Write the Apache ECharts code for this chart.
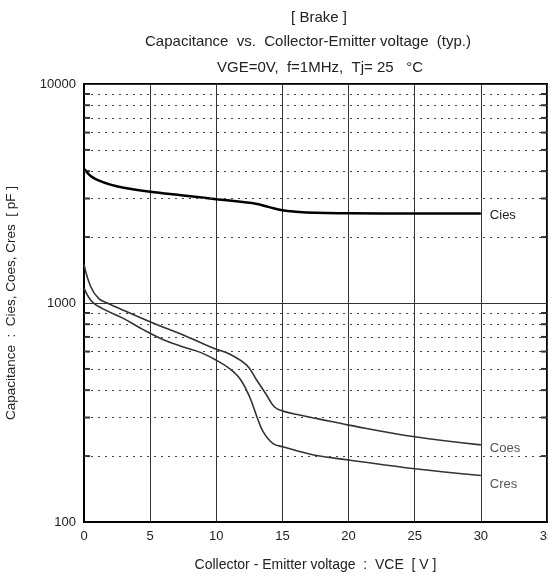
<!DOCTYPE html>
<html><head><meta charset="utf-8">
<script src="https://cdn.jsdelivr.net/npm/echarts@6/dist/echarts.min.js"></script>
<style>html,body{margin:0;padding:0;background:#fff}#c{width:548px;height:574px}</style>
</head><body><div id="c"></div>
<script>
var xTicks = [0,5,10,15,20,25,30,35];
var yTicks = [100,1000,10000];
var minorY = [200,300,400,500,600,700,800,900,2000,3000,4000,5000,6000,7000,8000,9000];
var cies = [[0,4100],[0.5,3800],[1,3650],[2,3470],[3,3360],[5,3220],[7.5,3100],[10,2980],[12,2890],[13,2840],[14,2740],[15,2650],[16,2610],[17.5,2580],[20,2570],[25,2560],[30,2560]];
var coes = [[0,1500],[0.5,1190],[1.1,1050],[1.75,1000],[3,925],[4.4,850],[6,775],[7.5,715],[8.8,660],[10,615],[11,585],[12.3,520],[13.05,445],[13.8,380],[14.4,335],[15.1,320],[16.3,308],[17.8,295],[20,277],[25,245],[30,225]];
var cres = [[0,1170],[0.6,1015],[1.36,945],[2.9,855],[4.4,760],[6,680],[7.5,630],[8.8,595],[10,548],[11,502],[11.8,450],[12.5,375],[13.05,305],[13.55,258],[14.3,228],[15.1,220],[16.3,210],[17.8,200],[20,192],[25,175],[30,163]];
var titleLines = ['[ Brake ]','Capacitance  vs.  Collector-Emitter voltage  (typ.)','VGE=0V,  f=1MHz,  Tj= 25   °C'];

var FONT = 'Liberation Sans, Arial, sans-serif';
var chart = echarts.init(document.getElementById('c'));
var tickL = minorY.map(function(v){return [xTicks[0], v];});
var tickR = minorY.map(function(v){return [xTicks[xTicks.length-1], v];});
chart.setOption({
  animation:false,
  backgroundColor:'#fff',
  graphic:[
    {type:'text', x:319, y:18, style:{text:titleLines[0], font:'15px '+FONT, fill:'#222', textAlign:'center', textVerticalAlign:'middle'}},
    {type:'text', x:308, y:42, style:{text:titleLines[1], font:'15px '+FONT, fill:'#222', textAlign:'center', textVerticalAlign:'middle'}},
    {type:'text', x:320, y:68, style:{text:titleLines[2], font:'15px '+FONT, fill:'#222', textAlign:'center', textVerticalAlign:'middle'}}
  ],
  grid:{left:84, right:1, top:84, bottom:52, outerBoundsMode:'none', containLabel:false, show:true, borderColor:'#000', borderWidth:2, backgroundColor:'transparent'},
  xAxis:{type:'value', min:0, max:35, interval:5,
    name:'Collector - Emitter voltage  :  VCE  [ V ]', nameLocation:'middle', nameGap:36,
    nameTextStyle:{fontFamily:FONT, fontSize:14, color:'#222'},
    axisLine:{show:true, lineStyle:{color:'#000', width:2}},
    axisTick:{show:false},
    axisLabel:{fontFamily:FONT, fontSize:13, color:'#222', margin:8},
    splitLine:{show:true, lineStyle:{color:'#333', width:1}}
  },
  yAxis:{type:'log', logBase:10, min:100, max:10000,
    name:'Capacitance  :  Cies, Coes, Cres  [ pF ]', nameLocation:'middle', nameGap:66,
    nameTextStyle:{fontFamily:FONT, fontSize:13.5, color:'#222'},
    axisLine:{show:true, lineStyle:{color:'#000', width:2}},
    axisTick:{show:false},
    axisLabel:{fontFamily:FONT, fontSize:13, color:'#222', margin:8,
      formatter:function(v){return yTicks.indexOf(Math.round(v))>=0 ? String(Math.round(v)) : '';}},
    splitLine:{show:true, lineStyle:{color:'#333', width:1}}
  },
  series:[
    {type:'line', name:'Cies', data:cies, symbol:'none', smooth:0.4,
      lineStyle:{color:'#000', width:2.5},
      endLabel:{show:true, formatter:'{a}', distance:9, fontFamily:FONT, fontSize:13, color:'#222', offset:[0,2]},
      markLine:{silent:true, symbol:'none', label:{show:false}, animation:false,
        lineStyle:{color:'#444', width:1, type:[2,5]},
        data:minorY.map(function(v){return {yAxis:v};})}
    },
    {type:'line', name:'Coes', data:coes, symbol:'none', smooth:0.4,
      lineStyle:{color:'#333', width:1.6},
      endLabel:{show:true, formatter:'{a}', distance:9, fontFamily:FONT, fontSize:13, color:'#555', offset:[0,4]}
    },
    {type:'scatter', data:tickL, symbol:'rect', symbolSize:[6,2], symbolOffset:[3,0], silent:true,
      itemStyle:{color:'#000'}},
    {type:'line', name:'Cres', data:cres, symbol:'none', smooth:0.4,
      lineStyle:{color:'#333', width:1.6},
      endLabel:{show:true, formatter:'{a}', distance:9, fontFamily:FONT, fontSize:13, color:'#555', offset:[0,9]}
    },
    {type:'scatter', data:tickR, symbol:'rect', symbolSize:[6,2], symbolOffset:[-3,0], silent:true,
      itemStyle:{color:'#000'}}
  ]
});
</script></body></html>
